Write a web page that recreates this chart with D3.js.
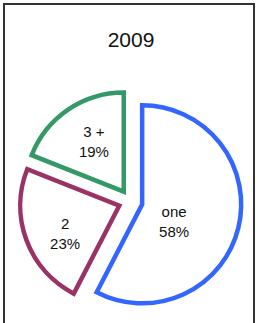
<!DOCTYPE html>
<html>
<head>
<meta charset="utf-8">
<script src="https://cdn.jsdelivr.net/npm/d3@7"></script>
<style>
  html, body { margin: 0; padding: 0; background: #fff; }
  svg { display: block; }
</style>
</head>
<body>
<svg id="area" width="258" height="323"></svg>
<script>
const title = '2009';
const categories = ['one', '2', '3 +'];
const shares = [57.6, 23.4, 19.0];
const percentLabels = ['58%', '23%', '19%'];
const colors = ['#3366ff', '#993366', '#339966'];

// label placement (polar, around pie centre)
const labelAngle = [114.7, 243.6, 328.5];
const labelRadius = [48, 73, 70];

const svg = d3.select('#area');
const width = +svg.attr('width');

// frame
svg.append('rect')
  .attr('x', 4)
  .attr('y', 4)
  .attr('width', width - 8)
  .attr('height', 340)
  .attr('fill', 'none')
  .attr('stroke', '#333')
  .attr('stroke-width', 2);

svg.append('text')
  .attr('x', 131)
  .attr('y', 47)
  .attr('text-anchor', 'middle')
  .style('font', '21px Arial, "Liberation Sans", sans-serif')
  .attr('fill', '#111')
  .text(title);

const cx = 130.5;
const cy = 201.5;
const radius = 99;
const explode = 12;

const pie = d3.pie().sort(null).value((d) => d);
const arc = d3.arc().innerRadius(0).outerRadius(radius);
const arcs = pie(shares);

const g = svg.append('g').attr('transform', `translate(${cx},${cy})`);

// slices
g.selectAll('path')
  .data(arcs)
  .join('path')
  .attr('d', arc)
  .attr('transform', (d) => {
    const mid = (d.startAngle + d.endAngle) / 2;
    return `translate(${Math.sin(mid) * explode},${-Math.cos(mid) * explode})`;
  })
  .attr('fill', '#fff')
  .attr('stroke', (d, i) => colors[i])
  .attr('stroke-width', 4.5)
  .attr('stroke-linejoin', 'miter');

// labels
const labels = g.selectAll('text.lbl')
  .data(arcs)
  .join('text')
  .attr('class', 'lbl')
  .attr('text-anchor', 'middle')
  .style('font', '15px Arial, "Liberation Sans", sans-serif')
  .attr('fill', '#111');

labels.each(function (d, i) {
  const a = labelAngle[i] * Math.PI / 180;
  const x = Math.sin(a) * labelRadius[i];
  const y = -Math.cos(a) * labelRadius[i];
  const t = d3.select(this);
  t.append('tspan').attr('x', x).attr('y', y - 5).text(categories[i]);
  t.append('tspan').attr('x', x).attr('y', y + 15.5).text(percentLabels[i]);
});
</script>
</body>
</html>
